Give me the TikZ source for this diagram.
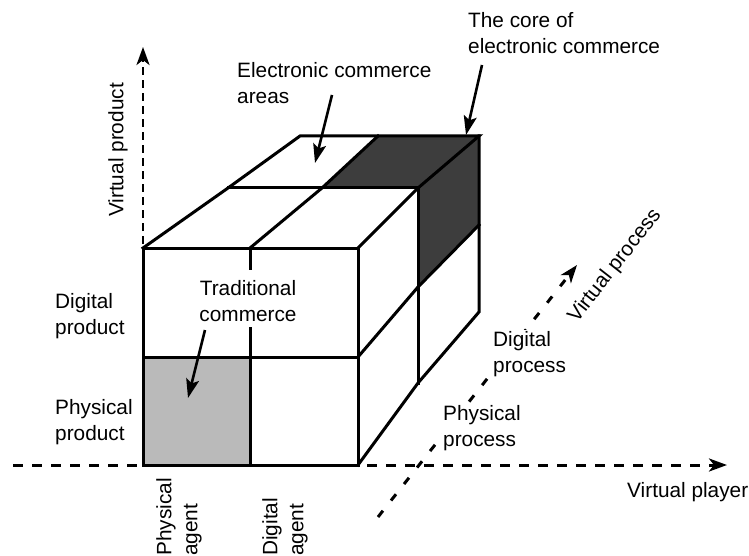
\documentclass[tikz,border=0pt]{standalone}
\usepackage{fontspec}
\setmainfont{Liberation Sans}
\usetikzlibrary{arrows.meta}
\begin{document}
\begin{tikzpicture}[x=1pt,y=-1pt,
  edge/.style={line width=3pt, line join=miter, line cap=rect},
  axisline/.style={line width=3pt, dash pattern=on 10pt off 9pt},
  axisarrow/.style={axisline, -{Stealth[length=18pt,width=13pt,inset=5pt]}},
  lbl/.style={font=\fontsize{20.8}{26}\selectfont, align=left, inner sep=0pt},
  pointer/.style={line width=2.6pt, -{Stealth[length=19pt,width=13pt,inset=4pt]}},
  lightcell/.style={fill=black!27},
  darkcell/.style={fill=black!76}
]
\useasboundingbox (0,0) rectangle (749,556);

% cube corner coordinates
\coordinate (FTL) at (143,248);
\coordinate (FTM) at (250,248);
\coordinate (FTR) at (358,248);
\coordinate (FML) at (143,357);
\coordinate (FMM) at (250,357);
\coordinate (FMR) at (358,357);
\coordinate (FBL) at (143,465);
\coordinate (FBM) at (250,465);
\coordinate (FBR) at (358,465);
\coordinate (MTL) at (228,188);
\coordinate (MTM) at (322,188);
\coordinate (MTR) at (418,188);
\coordinate (MMR) at (418,287);
\coordinate (MBR) at (418,383);
\coordinate (BTL) at (300,136);
\coordinate (BTM) at (378,136);
\coordinate (BTR) at (479,136);
\coordinate (BMR) at (479,225);
\coordinate (BBR) at (479,312);

% fills
\fill[lightcell] (FML) rectangle (FBM);
\fill[darkcell] (MTM) -- (BTM) -- (BTR) -- (MTR) -- cycle;
\fill[darkcell] (MTR) -- (BTR) -- (BMR) -- (MMR) -- cycle;

% front face
\draw[edge] (FTL) rectangle (FBR);
\draw[edge] (FML) -- (FMR);
\coordinate (gapTop) at (250,268);
\coordinate (gapBot) at (250,328);
\draw[edge] (FTM) -- (gapTop);
\draw[edge] (gapBot) -- (FBM);
% top face
\draw[edge] (FTL) -- (MTL) -- (BTL) -- (BTR) -- (MTR) -- (FTR);
\draw[edge] (MTL) -- (MTR);
\draw[edge] (FTM) -- (MTM) -- (BTM);
% right face
\draw[edge] (BTR) -- (BBR) -- (MBR) -- (FBR);
\draw[edge] (MTR) -- (MBR);
\draw[edge] (FMR) -- (MMR) -- (BMR);

% axes
\coordinate (vTip) at (143,47);
\coordinate (hLeft) at (13,465);
\coordinate (hStart) at (367,465);
\coordinate (hTip) at (727,465);
\coordinate (dStart) at (378,517);
\coordinate (dTip) at (577,265);
\draw[axisarrow, dash pattern=on 8pt off 5pt, line width=2.8pt] (143,244) -- (vTip);
\draw[axisline] (hLeft) -- (138,465);
\draw[axisarrow] (hStart) -- (hTip);
\draw[axisarrow, dash pattern=on 8pt off 13pt] (dStart) -- (dTip);

% labels
\node[lbl, anchor=west] (eca) at (237,83) {Electronic commerce\\areas};
\node[lbl, anchor=west] (core) at (468,33) {The core of\\electronic commerce};
\node[lbl, rotate=90] (vprod) at (118,150) {Virtual product};
\node[lbl, anchor=west] (dprod) at (55,316) {Digital\\product};
\node[lbl, anchor=west] (pprod) at (55,422) {Physical\\product};
\node[lbl, align=center] (trad) at (248,301) {Traditional\\commerce};
\node[lbl, rotate=90, anchor=west] (pagent) at (179,556) {Physical\\agent};
\node[lbl, rotate=90, anchor=west] (dagent) at (285,556) {Digital\\agent};
\node[lbl, anchor=west, fill=white, inner sep=1pt] (dproc) at (492,354) {Digital\\process};
\node[lbl, anchor=west, fill=white, inner sep=1pt] (pproc) at (442,428) {Physical\\process};
\node[lbl, anchor=west] (vplayer) at (627,492) {Virtual player};
\node[lbl, rotate=52] (vproc) at (615,266) {Virtual process};

% pointers
\coordinate (ecaTip) at (315,163);
\coordinate (coreTip) at (466,135);
\coordinate (tradTip) at (188,398);
\draw[pointer] (332,95) -- (ecaTip);
\draw[pointer] (482,65) -- (coreTip);
\draw[pointer] (205,330) -- (tradTip);
\end{tikzpicture}
\end{document}
